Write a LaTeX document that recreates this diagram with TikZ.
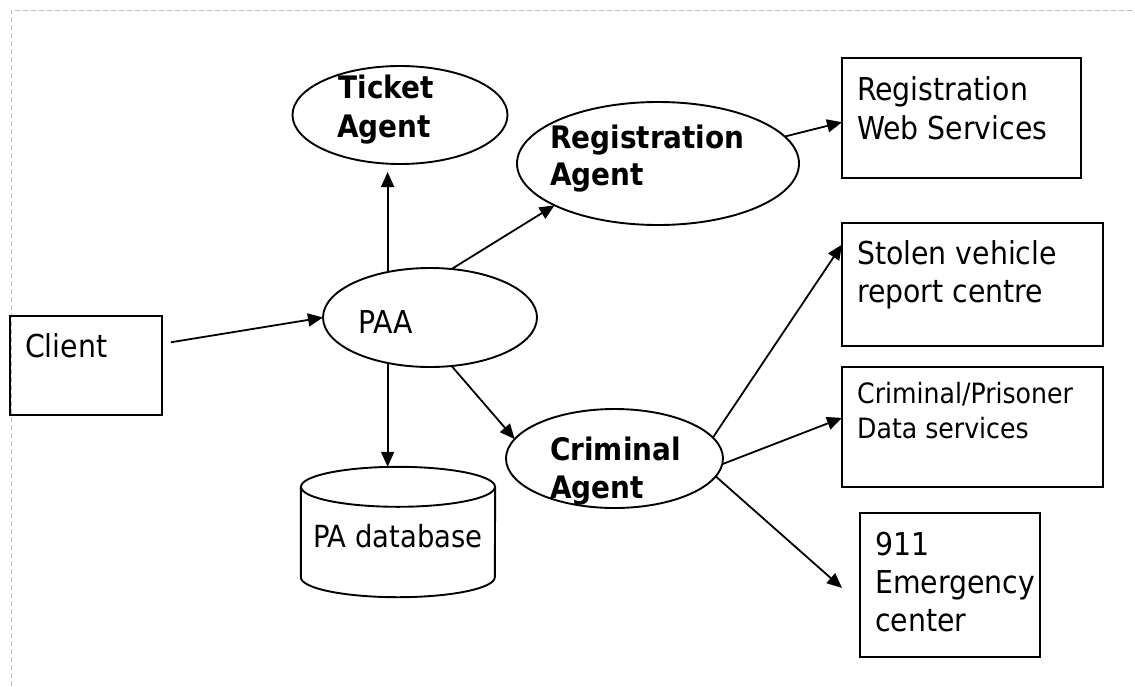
\documentclass[tikz,border=0pt]{standalone}
\usepackage{fontspec}
\setmainfont{DejaVu Sans Condensed}
\usetikzlibrary{arrows.meta,shapes.geometric,calc}

\begin{document}
\begin{tikzpicture}[x=1pt,y=-1pt,
  outline/.style={draw=black, line width=1.9pt},
  agent/.style={outline, ellipse, inner sep=0pt, outer sep=0pt},
  service/.style={outline, rectangle, inner sep=0pt, outer sep=0pt, anchor=north west},
  link/.style={line width=1.8pt, -{Triangle[length=15pt,width=13pt]}},
  txt/.style={inner sep=0pt, anchor=base west, font=\fontsize{31.5}{38}\selectfont},
  btxt/.style={inner sep=0pt, anchor=base, font=\fontsize{31}{38}\selectfont\bfseries},
  frame/.style={draw=gray!55, line width=0.9pt, dash pattern=on 5pt off 3pt},
]
\useasboundingbox (0,0) rectangle (1135,686);

% page frame
\draw[frame] (11,686) -- (11,10) -- (1135,10);

% agents
\node[agent, minimum width=215pt, minimum height=98pt]  (tkt)  at (400,115)   {};
\node[agent, minimum width=282pt, minimum height=123pt] (reg)  at (658,163.5) {};
\node[agent, minimum width=214pt, minimum height=99pt]  (paa)  at (430,317.5) {};
\node[agent, minimum width=217pt, minimum height=99pt]  (crim) at (614.5,458.5) {};

% services
\node[service, minimum width=239pt, minimum height=120pt] (rws)    at (842,58)  {};
\node[service, minimum width=261pt, minimum height=123pt] (stolen) at (842,223) {};
\node[service, minimum width=261pt, minimum height=120pt] (cpd)    at (842,367) {};
\node[service, minimum width=180pt, minimum height=144pt] (e911)   at (860,513) {};
\node[service, minimum width=152pt, minimum height=99pt]  (client) at (10,316)  {};

% database cylinder
\node[inner sep=0pt, minimum width=194pt, minimum height=130pt] (db) at (398,532) {};
\draw[outline] ($(db.north)+(0,20)$) ellipse[x radius=97pt, y radius=20pt];
\draw[outline] ($(db.north west)+(0,20)$) -- ($(db.south west)+(0,-20)$)
  arc[start angle=180, end angle=360, x radius=97pt, y radius=20pt]
  -- ($(db.north east)+(0,20)$);

% labels
\node[btxt] (tkt1) at (386,98)  {Ticket};
\node[btxt] (tkt2) at (384,137) {Agent};
\node[btxt, anchor=base west] (reg1) at (550,148) {Registration};
\node[btxt, anchor=base west] (reg2) at (550,185) {Agent};
\node[btxt, anchor=base west] (crim1) at (550,460) {Criminal};
\node[btxt, anchor=base west] (crim2) at (550,498) {Agent};
\node[txt] (paa1) at (358,333) {PAA};
\node[txt] (client1) at (25,357) {Client};
\node[txt, font=\fontsize{30.5}{36}\selectfont] (db1) at (313,547) {PA database};
\node[txt] (rws1) at (857,100) {Registration};
\node[txt] (rws2) at (857,139) {Web Services};
\node[txt] (stolen1) at (857,264) {Stolen vehicle};
\node[txt] (stolen2) at (857,302) {report centre};
\node[txt, font=\fontsize{28}{34}\selectfont] (cpd1) at (857,403) {Criminal/Prisoner};
\node[txt, font=\fontsize{28}{34}\selectfont] (cpd2) at (857,438) {Data services};
\node[txt] (e9111) at (875,555) {911};
\node[txt] (e9112) at (875,593) {Emergency};
\node[txt] (e9113) at (875,631) {center};

% connectors
\coordinate (t911) at ($(e911.west)+(-18,3)$);
\draw[link, shorten <=9pt] (client.16) -- (paa.west);
\draw[link, shorten >=8pt] (paa.133) -- (paa.133 |- tkt.south);
\draw[link] (paa.66) -- (reg.202);
\draw[link] (reg.12) -- (rws.182);
\draw[link] (paa.294) -- (crim.169);
\draw[link] (paa.227) -- (paa.227 |- db.north);
\draw[link] (crim.12) -- (stolen.163);
\draw[link] (crim.357) -- (cpd.176);
\draw[link] (crim.350) -- (t911);
\end{tikzpicture}
\end{document}
